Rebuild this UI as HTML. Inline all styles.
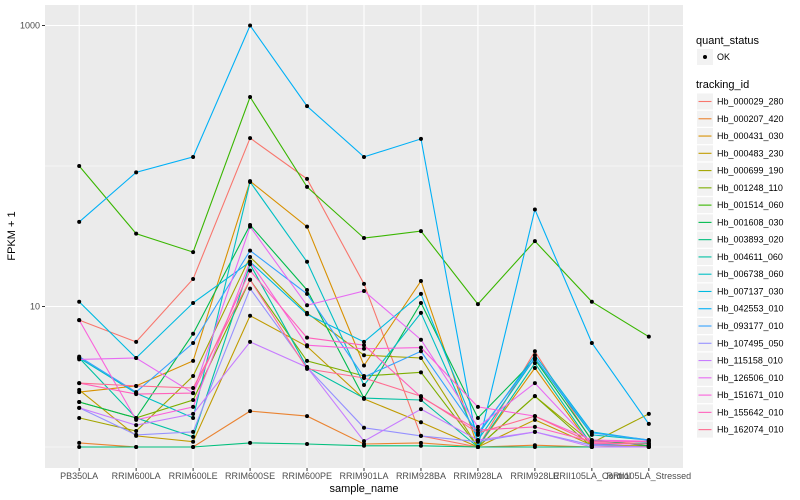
<!DOCTYPE html>
<html><head><meta charset="utf-8">
<style>
html,body{margin:0;padding:0;background:#fff;}
svg{display:block;font-family:"Liberation Sans",Arial,sans-serif;}
</style></head>
<body>
<svg id="chart" width="800" height="500" viewBox="0 0 800 500" xmlns="http://www.w3.org/2000/svg">
  <rect x="0" y="0" width="800" height="500" fill="#fff"/>
  <rect x="45" y="5" width="638" height="463" fill="#ebebeb"/>
  <g id="grid"></g>
  <g id="lines"></g>
  <g id="points"></g>
  <g id="axes"></g>
  <text x="364" y="492" font-size="11" text-anchor="middle" fill="#000">sample_name</text>
  <text x="15" y="236" font-size="11" text-anchor="middle" fill="#000" transform="rotate(-90 15 236)">FPKM + 1</text>
  <g id="legend"></g>
</svg>
<script>
const categories = ["PB350LA","RRIM600LA","RRIM600LE","RRIM600SE","RRIM600PE","RRIM901LA","RRIM928BA","RRIM928LA","RRIM928LE","RRII105LA_Control","RRII105LA_Stressed"];
const seriesNames = ["Hb_000029_280","Hb_000207_420","Hb_000431_030","Hb_000483_230","Hb_000699_190","Hb_001248_110","Hb_001514_060","Hb_001608_030","Hb_003893_020","Hb_004611_060","Hb_006738_060","Hb_007137_030","Hb_042553_010","Hb_093177_010","Hb_107495_050","Hb_115158_010","Hb_126506_010","Hb_151671_010","Hb_155642_010","Hb_162074_010"];
const seriesColors = ["#F8766D","#EA8331","#D89000","#C09B00","#A3A500","#7CAE00","#39B600","#00BB4E","#00BF7D","#00C1A3","#00BFC4","#00BAE0","#00B0F6","#35A2FF","#9590FF","#C77CFF","#E76BF3","#FA62DB","#FF62BC","#FF6C91"];
const s000029 = [8.0,5.6,15.7,158,81,14.5,1.2,1,4.8,1.1,1.05];
const s000207 = [1.07,1,1,1.8,1.66,1.05,1.07,1,1.03,1,1];
const s000431 = [2.46,2.72,4.1,78,37,3.8,15.2,1,3.65,1,1.02];
const s000483 = [2.55,1.2,1.09,8.6,5.2,2.2,1.5,1,1.56,1.03,1.02];
const s000699 = [1.61,1.3,3.2,22.5,9.0,4.5,4.3,1,2.3,1.07,1.72];
const s001248 = [2.09,1.61,2.16,15.5,4.1,3.2,3.4,1,2.3,1,1];
const s001514 = [100,33,24.4,310,71,30.7,34.4,10.4,29.2,10.8,6.1];
const s001608 = [2.09,1.61,6.4,38,13.1,2.23,10.6,1.61,4.2,1.12,1.02];
const s003893 = [1,1,1,1.07,1.05,1.02,1.02,1,1,1,1];
const s004611 = [4.3,1.61,1.18,20,3.7,2.23,2.16,1,3.95,1.03,1.07];
const s006738 = [4.3,2.42,1.61,77,20.8,2.76,9.0,1.12,4.3,1.22,1.12];
const s007137 = [10.8,4.3,10.6,20.8,8.8,5.6,12.3,1.22,4.5,1.28,1.12];
const s042553 = [40,90,116,1000,267,116,156,1,49,5.5,1.46];
const s093177 = [4.4,2.46,5.5,25,12.3,3.15,4.8,1.26,4.3,1.26,1.12];
const s107495 = [1.9,1.22,1.28,13.4,3.7,1.37,1.2,1.09,1.28,1.03,1];
const s115158 = [1.9,1.43,1.72,5.6,3.7,1.1,1.86,1.12,1.28,1,1];
const s126506 = [4.2,4.3,2.42,37,10.2,12.9,5.8,1.39,2.85,1.05,1.05];
const s151671 = [8.0,1.56,1.93,20.8,5.3,5.0,5.1,1.93,1.66,1.12,1.1];
const s155642 = [2.85,2.38,2.42,18,6,5.3,2.27,1.32,1.39,1.09,1.09];
const s162074 = [2.85,2.72,2.63,15.5,3.6,3.1,2.3,1.26,1.66,1.07,1.05];
const seriesValues = [s000029,s000207,s000431,s000483,s000699,s001248,s001514,s001608,s003893,s004611,s006738,s007137,s042553,s093177,s107495,s115158,s126506,s151671,s155642,s162074];
const yTickValues = [10,1000];
const yTickLabels = ["10","1000"];
const yMinorValues = [1,100];

const NS = "http://www.w3.org/2000/svg";
function mk(tag, attrs, parent){
  const e = document.createElementNS(NS, tag);
  for (const k in attrs) e.setAttribute(k, attrs[k]);
  parent.appendChild(e); return e;
}
const panelL = 45, panelR = 683;
const step = (panelR - panelL) / (categories.length - 1 + 1.2);
function xScale(i){ return panelL + step * (0.6 + i); }
function yScale(v){ return 447 - 140.5 * Math.log10(v); }

const grid = document.getElementById('grid');
yMinorValues.forEach(v => {
  const l = mk('line', {x1:panelL, x2:panelR, y1:yScale(v), y2:yScale(v), stroke:'#fff', 'stroke-width':0.6}, grid);
  
  
});
yTickValues.forEach(v => {
  const l = mk('line', {x1:panelL, x2:panelR, y1:yScale(v), y2:yScale(v), stroke:'#fff', 'stroke-width':1.1}, grid);
  
  
});
categories.forEach((c, i) => {
  const l = mk('line', {x1:xScale(i), x2:xScale(i), y1:5, y2:468, stroke:'#fff', 'stroke-width':1.1}, grid);
  
  
});

const lines = document.getElementById('lines');
const pts = document.getElementById('points');
seriesValues.forEach((vals, s) => {
  const d = vals.map((v, i) => (i ? 'L' : 'M') + xScale(i).toFixed(1) + ' ' + yScale(v).toFixed(1)).join(' ');
  const p = mk('path', {d:d, fill:'none', stroke:seriesColors[s], 'stroke-width':1.1}, lines);
  
  
  vals.forEach((v, i) => {
    const c = mk('circle', {cx:xScale(i), cy:yScale(v), r:2, fill:'#000'}, pts);
    
    
  });
});

const axes = document.getElementById('axes');
yTickValues.forEach((v, i) => {
  const y = yScale(v);
  const t = mk('line', {x1:42, x2:45, y1:y, y2:y, stroke:'#333', 'stroke-width':1}, axes);
  
  
  const tx = mk('text', {x:40, y:y+3, 'font-size':9, 'text-anchor':'end', fill:'#4d4d4d'}, axes);
  tx.textContent = yTickLabels[i];
  
  
});
categories.forEach((c, i) => {
  const x = xScale(i);
  const t = mk('line', {x1:x, x2:x, y1:468, y2:471, stroke:'#333', 'stroke-width':1}, axes);
  
  
  const tx = mk('text', {x:x, y:479, 'font-size':9, 'text-anchor':'middle', fill:'#4d4d4d'}, axes);
  tx.textContent = c;
  
  
});

const lg = document.getElementById('legend');
let t1 = mk('text', {x:696, y:44, 'font-size':11, fill:'#000'}, lg);
t1.textContent = 'quant_status';


let kb = mk('rect', {x:697, y:49, width:16, height:16, fill:'#f2f2f2'}, lg);


let kd = mk('circle', {cx:705, cy:57, r:2, fill:'#000'}, lg);


let t2 = mk('text', {x:717, y:60, 'font-size':9, fill:'#000'}, lg);
t2.textContent = 'OK';


let t3 = mk('text', {x:696, y:88, 'font-size':11, fill:'#000'}, lg);
t3.textContent = 'tracking_id';


seriesNames.forEach((n, s) => {
  const y = 101.5 + s * 17.27;
  const g = mk('g', {}, lg);
  
  
  mk('rect', {x:697, y:y-8, width:16, height:16, fill:'#f2f2f2'}, g);
  mk('line', {x1:698.5, x2:711.5, y1:y, y2:y, stroke:seriesColors[s], 'stroke-width':1.1}, g);
  const tx = mk('text', {x:717, y:y+3, 'font-size':9, fill:'#000'}, g);
  tx.textContent = n;
});
</script>
</body></html>
